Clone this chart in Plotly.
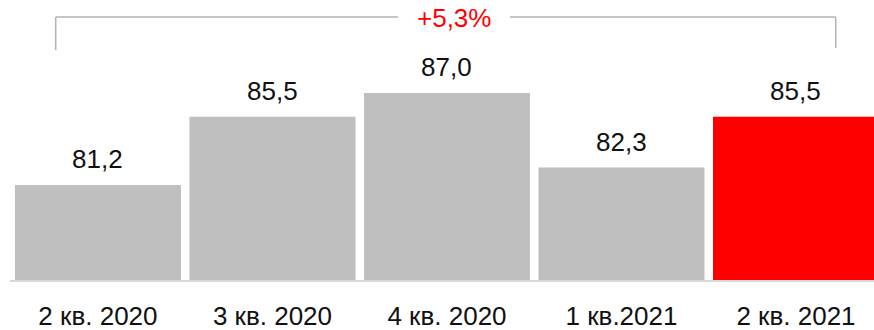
import plotly.graph_objects as go

categories = ["2 кв. 2020", "3 кв. 2020", "4 кв. 2020", "1 кв.2021", "2 кв. 2021"]
values = [81.2, 85.5, 87.0, 82.3, 85.5]
value_labels = ["81,2", "85,5", "87,0", "82,3", "85,5"]
colors = ["#bfbfbf", "#bfbfbf", "#bfbfbf", "#bfbfbf", "#ff0000"]
change_label = "+5,3%"

FONT = "Liberation Sans"
FS = 26

fig = go.Figure()
fig.add_trace(go.Bar(
    x=list(range(len(categories))),
    y=values,
    marker=dict(color=colors, line=dict(width=0)),
    hoverinfo="skip",
))

for i, (v, t) in enumerate(zip(values, value_labels)):
    fig.add_annotation(x=i, y=v, text=t, showarrow=False, yanchor="bottom",
                       yshift=9, font=dict(family=FONT, size=FS, color="#111111"))

# bracket
line_style = dict(color="#b3b3b3", width=1.5)
fig.add_shape(type="line", xref="paper", yref="paper", x0=0.0529, x1=0.0529, y0=0.821, y1=0.939, line=line_style)
fig.add_shape(type="line", xref="paper", yref="paper", x0=0.0529, x1=0.449, y0=0.939, y1=0.939, line=line_style)
fig.add_shape(type="line", xref="paper", yref="paper", x0=0.5787, x1=0.9557, y0=0.939, y1=0.939, line=line_style)
fig.add_shape(type="line", xref="paper", yref="paper", x0=0.9557, x1=0.9557, y0=0.829, y1=0.939, line=line_style)
fig.add_annotation(xref="paper", yref="paper", x=0.5139, y=0.939, text=change_label,
                   showarrow=False, yanchor="middle", xanchor="center", yshift=-1,
                   font=dict(family=FONT, size=FS, color="#ff0000"))

fig.update_layout(
    width=874, height=330,
    margin=dict(l=10, r=0, t=0, b=50),
    paper_bgcolor="white", plot_bgcolor="white",
    bargap=0.0487,
    showlegend=False,
    xaxis=dict(range=[-0.504, 4.447], tickmode="array",
               tickvals=list(range(len(categories))), ticktext=categories,
               showgrid=False, zeroline=False, showline=True,
               linecolor="#d9d9d9", linewidth=1.5, ticks="",
               ticklabelstandoff=12,
               tickfont=dict(family=FONT, size=FS, color="#111111")),
    yaxis=dict(range=[75.22, 92.85], visible=False, showgrid=False),
)

fig.write_html("out.html")
